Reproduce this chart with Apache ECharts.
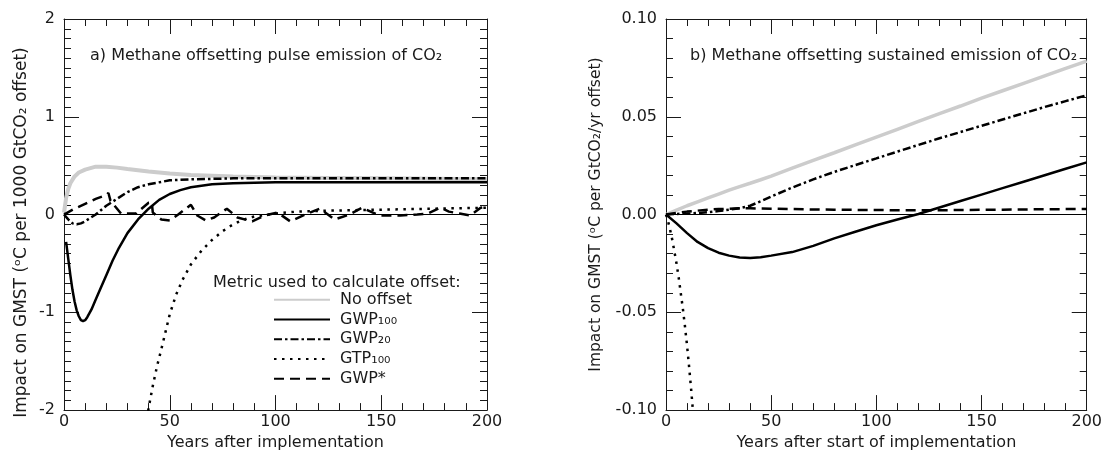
<!DOCTYPE html>
<html>
<head>
<meta charset="utf-8">
<script src="https://cdn.jsdelivr.net/npm/echarts@6.0.0/dist/echarts.min.js"></script>
<style>
html, body { margin: 0; background: #fff; }
#chart { width: 1105px; height: 456px; }
</style>
</head>
<body>
<div id="chart"></div>
<script>
// panel a: pulse emission (years, degC per 1000 GtCO2)
var noOffsetYearsA = [0, 1, 2, 3, 5, 7, 10, 15, 20, 25, 30, 40, 50, 60, 80, 100, 125, 150, 175, 200];
var noOffsetA = [0.02, 0.17, 0.26, 0.32, 0.39, 0.43, 0.46, 0.49, 0.49, 0.48, 0.465, 0.44, 0.42, 0.405, 0.39, 0.38, 0.375, 0.37, 0.365, 0.36];

var gwp100YearsA = [1, 2, 3, 4, 5, 6, 7, 8, 9, 10, 11, 13, 15, 17, 20, 23, 26, 30, 35, 40, 45, 50, 55, 60, 70, 80, 100, 125, 150, 175, 200];
var gwp100A = [-0.28, -0.45, -0.62, -0.77, -0.89, -0.98, -1.04, -1.08, -1.09, -1.08, -1.05, -0.97, -0.87, -0.77, -0.62, -0.47, -0.34, -0.19, -0.05, 0.06, 0.15, 0.21, 0.25, 0.28, 0.31, 0.32, 0.33, 0.33, 0.33, 0.33, 0.33];

var gwp20YearsA = [0, 2, 4, 6, 8, 10, 12, 15, 20, 25, 30, 35, 40, 50, 60, 80, 100, 150, 200];
var gwp20A = [0.0, -0.05, -0.09, -0.1, -0.09, -0.07, -0.04, 0.0, 0.09, 0.16, 0.23, 0.28, 0.31, 0.35, 0.36, 0.37, 0.37, 0.37, 0.37];

var gtp100YearsA = [38, 40, 42, 44, 46, 48, 50, 53, 56, 60, 65, 70, 75, 80, 85, 90, 100, 110, 125, 150, 175, 200];
var gtp100A = [-2.25, -1.98, -1.75, -1.55, -1.38, -1.2, -1.02, -0.82, -0.67, -0.51, -0.37, -0.26, -0.17, -0.1, -0.05, -0.02, 0.01, 0.03, 0.04, 0.05, 0.06, 0.07];

var gwpStarYearsA = [0, 5, 10, 15, 20, 21, 22, 27, 34, 40, 41.5, 42, 46, 50, 54, 60, 63, 67, 71, 77, 82, 89, 95, 101, 107, 115, 121, 128, 135, 141, 149, 159, 167, 172, 178, 182, 187, 192, 197, 200];
var gwpStarA = [0, 0.06, 0.11, 0.16, 0.2, 0.22, 0.14, 0.01, 0.01, 0.12, 0.12, 0.02, -0.05, -0.06, 0.0, 0.1, -0.01, -0.06, -0.03, 0.06, -0.03, -0.07, -0.01, 0.02, -0.07, 0.01, 0.06, -0.05, 0.0, 0.07, -0.01, -0.01, 0.0, 0.01, 0.07, 0.03, 0.01, -0.01, 0.07, 0.08];

// panel b: sustained emission (degC per GtCO2/yr)
var yearsB = [0, 5, 10, 15, 20, 25, 30, 35, 40, 45, 50, 60, 70, 80, 90, 100, 110, 120, 130, 140, 150, 160, 170, 180, 190, 200];
var noOffsetB = [0, 0.0023, 0.0045, 0.0065, 0.0085, 0.0105, 0.0125, 0.0143, 0.016, 0.0178, 0.0197, 0.0237, 0.0277, 0.0316, 0.0356, 0.0396, 0.0436, 0.0476, 0.0516, 0.0555, 0.0595, 0.0633, 0.0671, 0.0709, 0.0747, 0.0785];
var gwp100B = [0, -0.0045, -0.0095, -0.014, -0.0172, -0.0195, -0.021, -0.022, -0.0222, -0.0218, -0.021, -0.0192, -0.016, -0.0122, -0.0088, -0.0055, -0.0025, 0.0003, 0.0036, 0.0069, 0.0102, 0.0135, 0.0168, 0.0201, 0.0234, 0.0267];
var gwp20B = [0, 0.0003, 0.0005, 0.0008, 0.0012, 0.0018, 0.0025, 0.0032, 0.0045, 0.0068, 0.0092, 0.0138, 0.018, 0.0218, 0.0253, 0.0287, 0.0322, 0.0356, 0.039, 0.0422, 0.0454, 0.0486, 0.0518, 0.055, 0.058, 0.061];
var gwpStarB = [0, 0.0008, 0.0015, 0.002, 0.0025, 0.0028, 0.003, 0.0032, 0.0032, 0.0031, 0.003, 0.0028, 0.0026, 0.0025, 0.0024, 0.0023, 0.0022, 0.0022, 0.0022, 0.0023, 0.0024, 0.0025, 0.0026, 0.0027, 0.0028, 0.0028];
var gtp100YearsB = [0, 1, 2, 3, 4, 5, 6, 7, 8, 9, 10, 11, 12, 13];
var gtp100B = [0, -0.0035, -0.008, -0.013, -0.019, -0.025, -0.032, -0.04, -0.048, -0.057, -0.067, -0.078, -0.09, -0.103];

var metricNames = ['No offset', 'GWP₁₀₀', 'GWP₂₀', 'GTP₁₀₀', 'GWP*'];

var font = 'DejaVu Sans';
var ink = '#1a1a1a';

function pairs(xs, ys) {
    var out = [];
    for (var i = 0; i < xs.length; i++) out.push([xs[i], ys[i]]);
    return out;
}

// frame axis: ticks inside on all four sides
function xAxis(g, pos) {
    var bottom = pos === 'bottom';
    return {
        type: 'value', gridIndex: g, position: pos, min: 0, max: 200, interval: 50,
        name: bottom ? (g === 0 ? 'Years after implementation' : 'Years after start of implementation') : '',
        nameLocation: 'middle', nameGap: 20,
        nameTextStyle: { fontFamily: font, fontSize: 16, color: ink },
        axisLine: { show: true, onZero: false, lineStyle: { color: ink, width: 1 } },
        axisTick: { show: true, inside: true, length: 15, lineStyle: { color: ink } },
        minorTick: { show: true, splitNumber: 5, length: 7, lineStyle: { color: ink } },
        splitLine: { show: false },
        axisLabel: { show: bottom, margin: 4, fontFamily: font, fontSize: 16, color: ink }
    };
}

function yAxis(g, pos) {
    var left = pos === 'left';
    var a = g === 0;
    return {
        type: 'value', gridIndex: g, position: pos,
        min: a ? -2 : -0.1, max: a ? 2 : 0.1, interval: a ? 1 : 0.05,
        name: left ? (a ? 'Impact on GMST (ᵒC per 1000 GtCO₂ offset)' : 'Impact on GMST (ᵒC per GtCO₂/yr offset)') : '',
        nameLocation: 'middle', nameRotate: 90, nameGap: a ? 34 : 62,
        // panel a label sits a little below the axis middle
        nameTextStyle: { fontFamily: font, fontSize: a ? 17 : 15.5, color: ink, padding: a ? [0, 36, 0, 0] : 0 },
        axisLine: { show: true, onZero: false, lineStyle: { color: ink, width: 1 } },
        axisTick: { show: true, inside: true, length: 15, lineStyle: { color: ink } },
        minorTick: { show: true, splitNumber: a ? 10 : 5, length: 7, lineStyle: { color: ink } },
        splitLine: { show: false },
        axisLabel: {
            show: left, margin: 9, fontFamily: font, fontSize: 16, color: ink,
            formatter: function (v) { return a ? String(v) : v.toFixed(2); }
        }
    };
}

function line(name, g, data, style) {
    return {
        name: name, type: 'line', xAxisIndex: g * 2, yAxisIndex: g * 2,
        data: data, symbol: 'none', showSymbol: false, clip: true, animation: false,
        lineStyle: Object.assign({ color: '#000', width: 2.5, cap: 'butt' }, style),
        itemStyle: { color: style.color || '#000' }
    };
}

var zeroLine = {
    silent: true, symbol: 'none', label: { show: false }, animation: false,
    lineStyle: { color: '#000', width: 1, type: 'solid' },
    data: [{ yAxis: 0 }]
};

var greyStyle = { color: '#cccccc', width: 4, type: 'solid' };
var solidStyle = { type: 'solid' };
var dashDotStyle = { type: [8, 3, 2.5, 3] };
var dotStyle = { type: [2.5, 5.5] };
var dashStyle = { type: [10, 6] };

var series = [
    line(metricNames[0], 0, pairs(noOffsetYearsA, noOffsetA), greyStyle),
    line(metricNames[1], 0, pairs(gwp100YearsA, gwp100A), solidStyle),
    line(metricNames[2], 0, pairs(gwp20YearsA, gwp20A), dashDotStyle),
    line(metricNames[3], 0, pairs(gtp100YearsA, gtp100A), dotStyle),
    line(metricNames[4], 0, pairs(gwpStarYearsA, gwpStarA), dashStyle),
    line(metricNames[0], 1, pairs(yearsB, noOffsetB), { color: '#cccccc', width: 3.5, type: 'solid' }),
    line(metricNames[1], 1, pairs(yearsB, gwp100B), solidStyle),
    line(metricNames[2], 1, pairs(yearsB, gwp20B), dashDotStyle),
    line(metricNames[3], 1, pairs(gtp100YearsB, gtp100B), dotStyle),
    line(metricNames[4], 1, pairs(yearsB, gwpStarB), dashStyle)
];
series[1].markLine = zeroLine;
series[6].markLine = zeroLine;

var titleStyle = { fontFamily: font, fontSize: 16, fontWeight: 'normal', color: ink };

var option = {
    backgroundColor: '#fff',
    animation: false,
    title: [
        { text: 'a) Methane offsetting pulse emission of CO₂', left: 85, top: 43, textStyle: titleStyle },
        { text: 'b) Methane offsetting sustained emission of CO₂', left: 685, top: 43, textStyle: titleStyle },
        { text: 'Metric used to calculate offset:', left: 208, top: 270, textStyle: titleStyle }
    ],
    legend: {
        data: metricNames, orient: 'vertical', left: 268, top: 285,
        itemWidth: 56, itemHeight: 14, itemGap: 0,
        itemStyle: { opacity: 0 },
        textStyle: { fontFamily: font, fontSize: 16, color: ink, lineHeight: 19.7, padding: [0, 0, 0, 5] },
        selectedMode: false
    },
    grid: [
        { left: 64, top: 19, width: 423, height: 400, containLabel: false },
        { left: 666, top: 19, width: 421, height: 400, containLabel: false }
    ],
    xAxis: [xAxis(0, 'bottom'), xAxis(0, 'top'), xAxis(1, 'bottom'), xAxis(1, 'top')],
    yAxis: [yAxis(0, 'left'), yAxis(0, 'right'), yAxis(1, 'left'), yAxis(1, 'right')],
    series: series
};

var chart = echarts.init(document.getElementById('chart'));
chart.setOption(option);
</script>
</body>
</html>
